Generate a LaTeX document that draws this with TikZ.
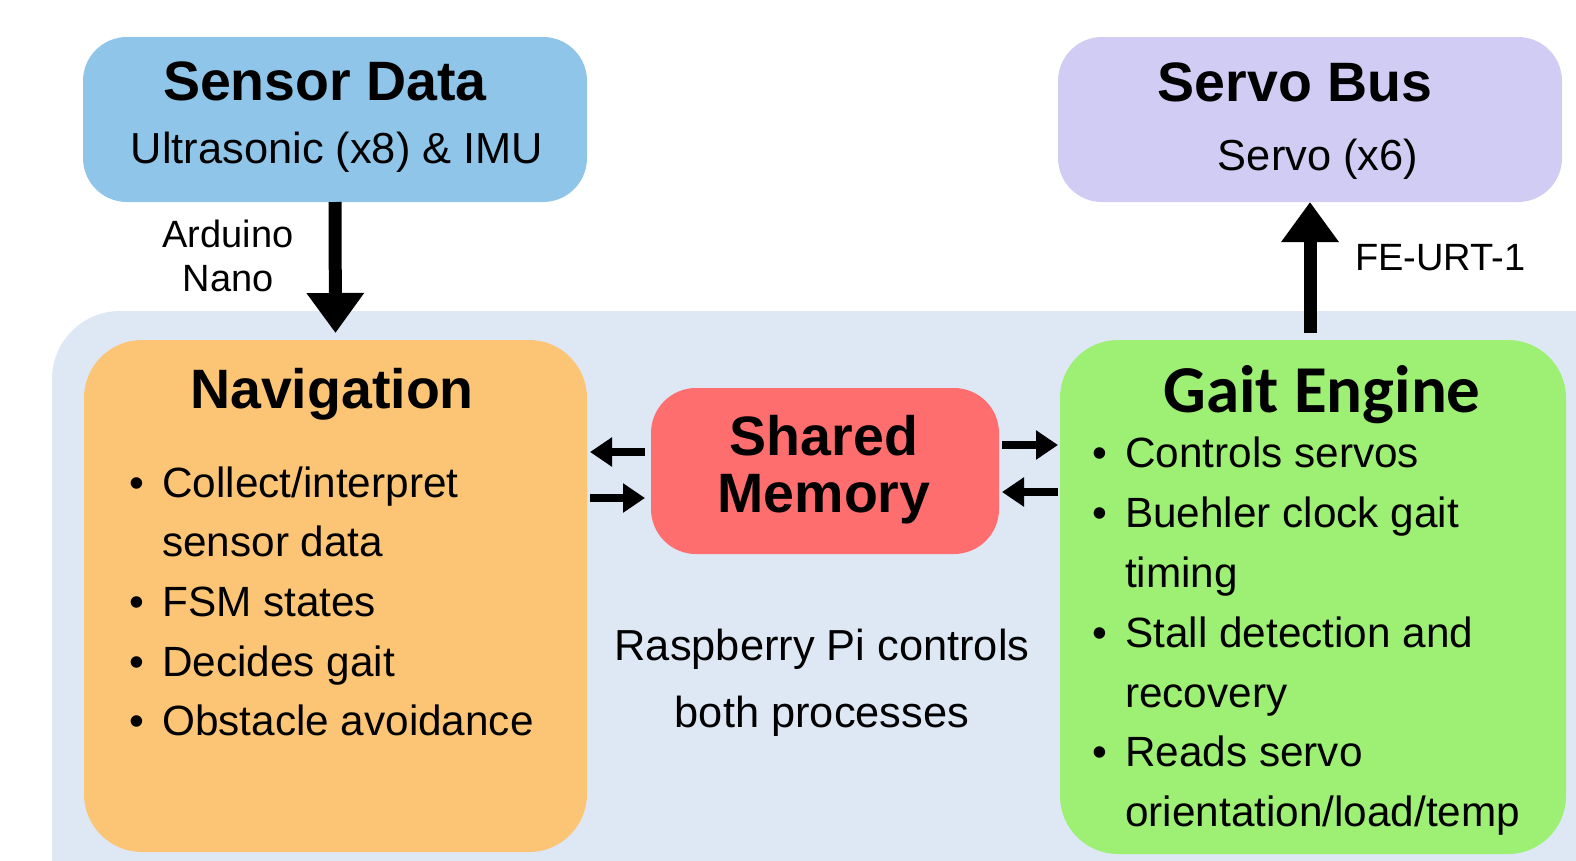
\documentclass[tikz,border=0pt]{standalone}
\usepackage{fontspec}
\setmainfont{Liberation Sans}
\newfontfamily\carlitofont{Carlito}
\usetikzlibrary{arrows.meta,calc}
\definecolor{bgblue}{RGB}{222,232,245}
\definecolor{sensorblue}{RGB}{143,197,232}
\definecolor{servolav}{RGB}{208,204,244}
\definecolor{navorange}{RGB}{252,197,117}
\definecolor{smred}{RGB}{255,110,110}
\definecolor{gaitgreen}{RGB}{157,240,115}
\newcommand\fsz[1]{\fontsize{#1}{#1}\selectfont}
\begin{document}
\begin{tikzpicture}[x=1pt,y=-1pt,
  box/.style={rounded corners=#1, inner sep=0pt, outer sep=0pt},
  title/.style={anchor=base, inner sep=0pt, font=\fsz{55.5}\bfseries},
  body/.style={anchor=base, inner sep=0pt, font=\fsz{43.4}},
  blt/.style={anchor=base west, inner sep=0pt, font=\fsz{42.3}},
  dot/.style={anchor=base, inner sep=0pt, font=\fsz{42.3}},
  lbl/.style={inner sep=0pt, font=\fsz{38}},
  bigarrow/.style={line width=13pt, -{Triangle[width=55pt,length=40pt]}},
  smallarrow/.style={line width=8pt, -{Triangle[width=28pt,length=22pt]}}]
\useasboundingbox (0,0) rectangle (1576,860);
\begin{scope}
\clip (0,0) rectangle (1576,860);
\fill[bgblue, rounded corners=68pt] (52,311) rectangle (1660,960);
\end{scope}

% boxes
\node[box=44pt, fill=sensorblue, minimum width=504pt, minimum height=165pt] (sensor) at (335,119.5) {};
\node[box=44pt, fill=servolav, minimum width=504pt, minimum height=165pt] (servo) at (1310,119.5) {};
\node[box=58pt, fill=navorange, minimum width=503pt, minimum height=512pt] (nav) at (335.5,596) {};
\node[box=58pt, fill=gaitgreen, minimum width=506pt, minimum height=514pt] (gait) at (1313,597) {};
\node[box=45pt, fill=smred, minimum width=348pt, minimum height=166pt] (sm) at (825,471) {};

% box texts
\node[title] (senst) at (325,100) {Sensor Data};
\node[body] (sensb) at (337,163) {Ultrasonic (x8) \& IMU};
\node[title] (servot) at (1295,101) {Servo Bus};
\node[body] (servob) at (1318,170) {Servo (x6)};
\node[title] (navt) at (332,408) {Navigation};
\node[title] (smt1) at (824,455) {Shared};
\node[title] (smt2) at (824,512) {Memory};
\node[anchor=base, inner sep=0pt, font=\fsz{67}\carlitofont\bfseries] (gaitt) at (1322,412) {Gait Engine};

% navigation bullets
\node[dot] (nd1) at (137,497) {•};
\node[blt] (nl1) at (162,497) {Collect/interpret};
\node[blt] (nl2) at (162,556) {sensor data};
\node[dot] (nd2) at (137,616) {•};
\node[blt] (nl3) at (162,616) {FSM states};
\node[dot] (nd3) at (137,676) {•};
\node[blt] (nl4) at (162,676) {Decides gait};
\node[dot] (nd4) at (137,735) {•};
\node[blt] (nl5) at (162,735) {Obstacle avoidance};

% gait bullets
\node[dot] (gd1) at (1100,467) {•};
\node[blt] (gl1) at (1125,467) {Controls servos};
\node[dot] (gd2) at (1100,527) {•};
\node[blt] (gl2) at (1125,527) {Buehler clock gait};
\node[blt] (gl3) at (1125,587) {timing};
\node[dot] (gd3) at (1100,647) {•};
\node[blt] (gl4) at (1125,647) {Stall detection and};
\node[blt] (gl5) at (1125,707) {recovery};
\node[dot] (gd4) at (1100,766) {•};
\node[blt] (gl6) at (1125,766) {Reads servo};
\node[blt] (gl7) at (1125,826) {orientation/load/temp};

% centre note
\node[body] (rp1) at (822,660) {Raspberry Pi controls};
\node[body] (rp2) at (822,727) {both processes};

% connector labels
\node[lbl, anchor=base] (ard1) at (228,247) {Arduino};
\node[lbl, anchor=base] (ard2) at (228,291) {Nano};
\node[lbl, anchor=base west] (feurt) at (1355,270) {FE-URT-1};

% connectors
\draw[bigarrow, shorten >=7pt] (sensor.south) -- (nav.north);
\draw[bigarrow, shorten <=7pt] (gait.north -| servo.south) -- (servo.south);
\draw[smallarrow, shorten <=6pt, shorten >=3pt] ($(sm.west)+(0,-19)$) -- ($(nav.east |- sm.west)+(0,-19)$);
\draw[smallarrow, shorten <=3pt, shorten >=6pt] ($(nav.east |- sm.west)+(0,27)$) -- ($(sm.west)+(0,27)$);
\draw[smallarrow, shorten <=3pt, shorten >=2pt] ($(sm.east)+(0,-26)$) -- ($(gait.west |- sm.east)+(0,-26)$);
\draw[smallarrow, shorten <=2pt, shorten >=3pt] ($(gait.west |- sm.east)+(0,21)$) -- ($(sm.east)+(0,21)$);
\end{tikzpicture}
\end{document}
